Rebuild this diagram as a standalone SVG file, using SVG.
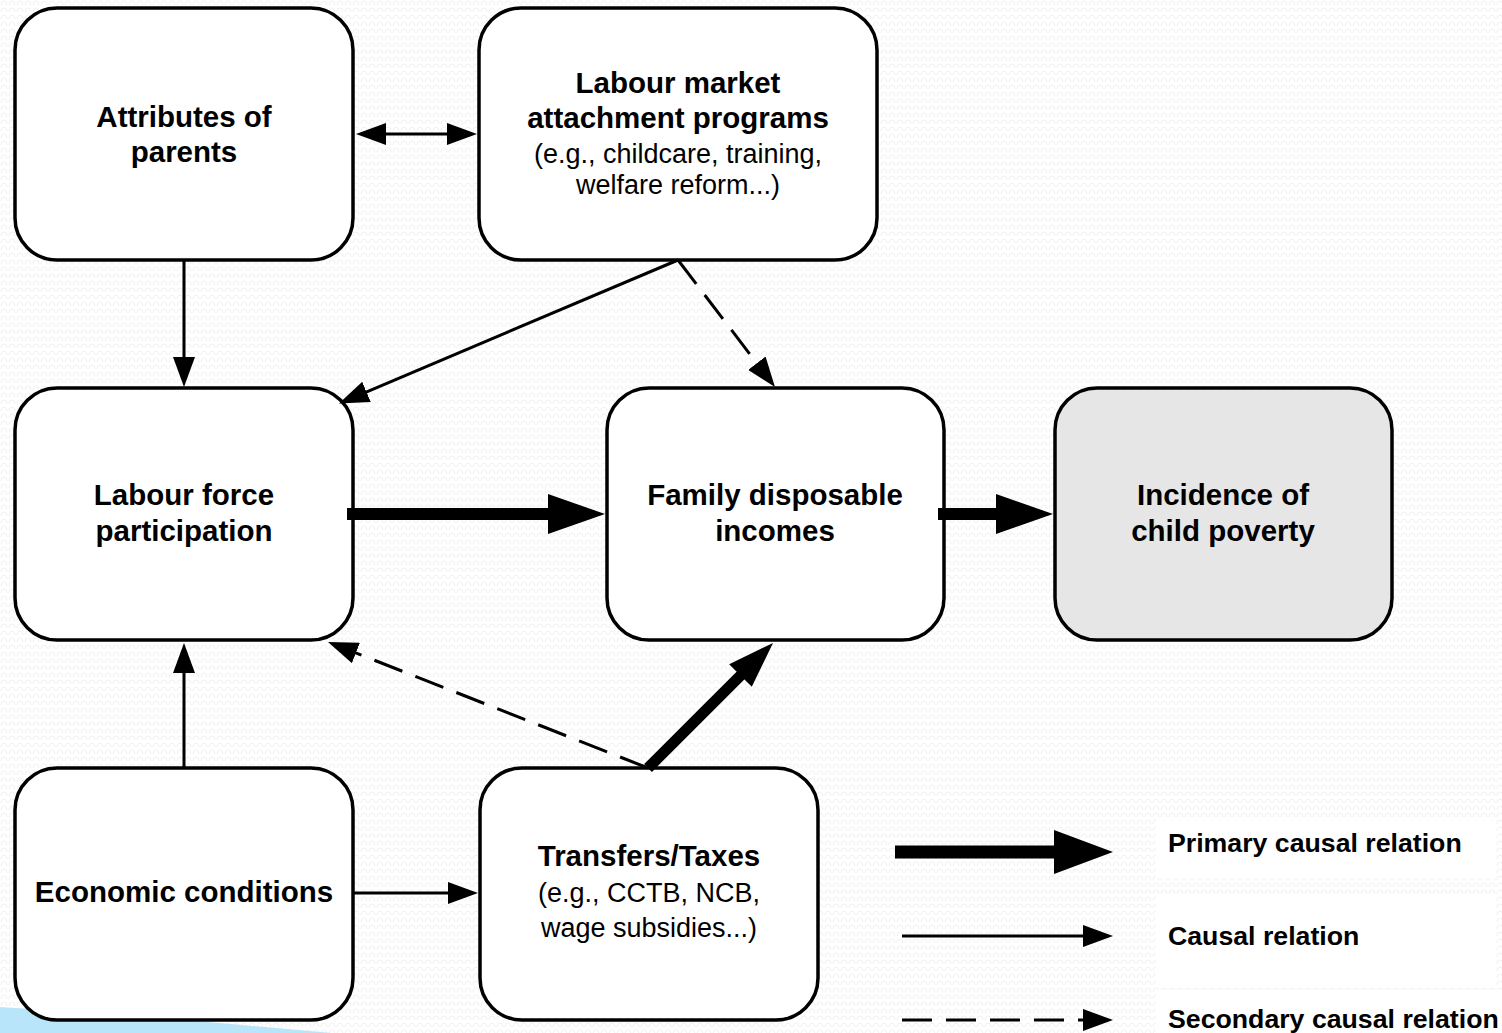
<svg xmlns="http://www.w3.org/2000/svg" width="1502" height="1033" viewBox="0 0 1502 1033">
  <defs>
    <pattern id="texture" width="8" height="7" patternUnits="userSpaceOnUse">
      <path d="M1,5 Q1,1 4,1 Q7,1 7,5" fill="none" stroke="#ececec" stroke-width="0.8"/>
    </pattern>
    <marker id="head" markerUnits="userSpaceOnUse" markerWidth="30" markerHeight="22" refX="1" refY="11" orient="auto-start-reverse">
      <path d="M0,0 L30,11 L0,22 Z" fill="#000"/>
    </marker>
    <marker id="bighead" markerUnits="userSpaceOnUse" markerWidth="57" markerHeight="40" refX="1" refY="20" orient="auto">
      <path d="M0,0 L57,20 L0,40 Z" fill="#000"/>
    </marker>
    <marker id="diaghead" markerUnits="userSpaceOnUse" markerWidth="46" markerHeight="32" refX="1" refY="16" orient="auto">
      <path d="M0,0 L46,16 L0,32 Z" fill="#000"/>
    </marker>
    <marker id="keyhead" markerUnits="userSpaceOnUse" markerWidth="59" markerHeight="44" refX="1" refY="22" orient="auto">
      <path d="M0,0 L59,22 L0,44 Z" fill="#000"/>
    </marker>
  </defs>
  <style>
    .box { fill: #fff; stroke: #000; stroke-width: 3.5; }
    .target { fill: #e6e6e6; }
    .b { font-family: "Liberation Sans", Arial, sans-serif; font-weight: bold; font-size: 29.5px; fill: #000; text-anchor: middle; }
    .r { font-family: "Liberation Sans", Arial, sans-serif; font-size: 27px; fill: #000; text-anchor: middle; }
    .key { font-family: "Liberation Sans", Arial, sans-serif; font-weight: bold; font-size: 26.7px; fill: #000; }
    .thin { stroke: #000; stroke-width: 3; fill: none; marker-end: url(#head); }
    .dash { stroke-dasharray: 30 14; }
    .thick { stroke: #000; stroke-width: 12; fill: none; marker-end: url(#bighead); }
  </style>

  <!-- page background -->
  <rect width="1502" height="1033" fill="#fff"/>
  <rect width="1502" height="1033" fill="url(#texture)"/>
  <path d="M0,1007 Q150,1016 332,1033 L0,1033 Z" fill="#b9e5fb"/>

  <!-- nodes -->
  <g id="attributes">
    <rect class="box" x="15" y="8" width="338" height="252" rx="42"/>
    <text class="b" x="184" y="127">Attributes of</text>
    <text class="b" x="184" y="162">parents</text>
  </g>
  <g id="programs">
    <rect class="box" x="479" y="8" width="398" height="252" rx="42"/>
    <text class="b" x="678" y="93">Labour market</text>
    <text class="b" x="678" y="128">attachment programs</text>
    <text class="r" x="678" y="163">(e.g., childcare, training,</text>
    <text class="r" x="678" y="194">welfare reform...)</text>
  </g>
  <g id="participation">
    <rect class="box" x="15" y="388" width="338" height="252" rx="42"/>
    <text class="b" x="184" y="505">Labour force</text>
    <text class="b" x="184" y="541">participation</text>
  </g>
  <g id="incomes">
    <rect class="box" x="607" y="388" width="337" height="252" rx="42"/>
    <text class="b" x="775" y="505">Family disposable</text>
    <text class="b" x="775" y="541">incomes</text>
  </g>
  <g id="poverty">
    <rect class="box target" x="1055" y="388" width="337" height="252" rx="42"/>
    <text class="b" x="1223" y="505">Incidence of</text>
    <text class="b" x="1223" y="541">child poverty</text>
  </g>
  <g id="economy">
    <rect class="box" x="15" y="768" width="338" height="252" rx="42"/>
    <text class="b" x="184" y="902">Economic conditions</text>
  </g>
  <g id="transfers">
    <rect class="box" x="480" y="768" width="338" height="252" rx="42"/>
    <text class="b" x="649" y="866">Transfers/Taxes</text>
    <text class="r" x="649" y="902">(e.g., CCTB, NCB,</text>
    <text class="r" x="649" y="937">wage subsidies...)</text>
  </g>

  <!-- connectors -->
  <g id="connectors">
    <line class="thin" x1="385" y1="134" x2="448" y2="134" marker-start="url(#head)"/>
    <line class="thin" x1="184" y1="260" x2="184" y2="358"/>
    <line class="thin" x1="678" y1="260" x2="365.6" y2="392.3"/>
    <line class="thin dash" x1="678" y1="260" x2="757.4" y2="364"/>
    <line class="thick" x1="347" y1="514" x2="549" y2="514"/>
    <line class="thick" x1="938" y1="514" x2="997" y2="514"/>
    <line class="thin" x1="184" y1="768" x2="184" y2="672"/>
    <line class="thin" x1="353" y1="893" x2="449" y2="893"/>
    <line stroke="#000" stroke-width="11" x1="648" y1="768" x2="741.2" y2="674.8" marker-end="url(#diaghead)"/>
    <line class="thin dash" x1="648" y1="768" x2="355" y2="652.6"/>
  </g>

  <!-- key -->
  <g id="legend">
    <rect x="1156" y="820" width="340" height="58" fill="#fff"/>
    <rect x="1156" y="897" width="340" height="90" fill="#fff"/>
    <rect x="1156" y="990" width="346" height="43" fill="#fff"/>
    <line stroke="#000" stroke-width="13" x1="895" y1="852" x2="1055" y2="852" marker-end="url(#keyhead)"/>
    <line class="thin" x1="902" y1="936" x2="1084" y2="936"/>
    <line class="thin dash" x1="902" y1="1020" x2="1084" y2="1020"/>
    <text class="key" x="1168" y="852">Primary causal relation</text>
    <text class="key" x="1168" y="945">Causal relation</text>
    <text class="key" x="1168" y="1028">Secondary causal relation</text>
  </g>
</svg>
